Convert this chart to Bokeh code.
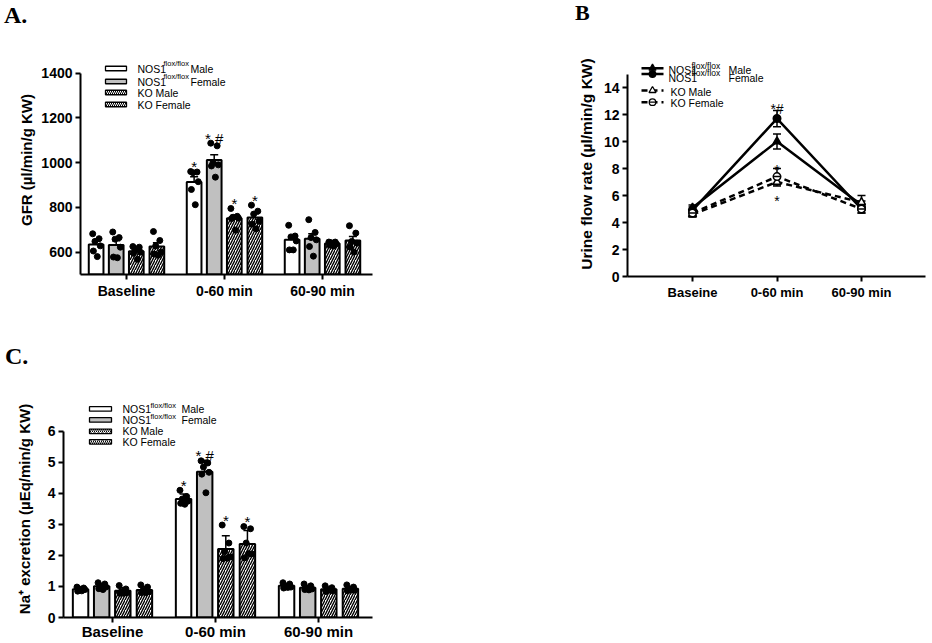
import numpy as np
from bokeh.plotting import figure
from bokeh.models import (ColumnDataSource, Whisker, TeeHead, FixedTicker, Label,
                          BoxAnnotation, Range1d, Div)
from bokeh.layouts import column, row
from bokeh.embed import file_html
from bokeh.resources import INLINE
from bokeh.core.properties import value

FONT = "Liberation Sans"
SERIF = "Liberation Serif"

# ---------------- data ----------------
periods = ["Baseline", "0-60 min", "60-90 min"]
periods_b = ["Baseine", "0-60 min", "60-90 min"]
series_names = ["NOS1 Male", "NOS1 Female", "KO Male", "KO Female"]

# Panel A: GFR (µl/min/g KW), individual animals per period
gfr_nos1_male = [[682, 660, 648, 628, 605, 580], [960, 958, 955, 915, 880, 812], [720, 672, 668, 650, 610, 610]]
gfr_nos1_female = [[690, 665, 658, 622, 578, 575], [1087, 1075, 1000, 990, 985, 935], [745, 688, 665, 655, 625, 582]]
gfr_ko_male = [[625, 622, 612, 600, 595, 568], [795, 760, 756, 752, 750, 698], [645, 645, 642, 636, 632, 628]]
gfr_ko_female = [[692, 652, 628, 600, 592, 586], [810, 783, 770, 738, 725, 704], [718, 685, 648, 640, 622, 600]]
gfr_sig = [["", "*", ""], ["", "* #", ""], ["", "*", ""], ["", "*", ""]]

# Panel B: urine flow rate (µl/min/g KW), mean and error
uf_nos1_male = [5.1, 10.0, 5.3]
uf_nos1_male_err = [0.2, 0.55, 0.3]
uf_nos1_female = [4.9, 11.7, 5.0]
uf_nos1_female_err = [0.25, 0.6, 0.3]
uf_ko_male = [4.6, 7.0, 5.5]
uf_ko_male_err = [0.2, 0.3, 0.5]
uf_ko_female = [4.7, 7.4, 5.0]
uf_ko_female_err = [0.2, 0.6, 0.3]
uf_sig_nos1_female = ["", "*#", ""]
uf_sig_ko_female = ["", "*", ""]
uf_sig_ko_male = ["", "*", ""]

# Panel C: Na+ excretion (µEq/min/g KW), individual animals per period
na_nos1_male = [[0.98, 0.95, 0.92, 0.90, 0.85, 0.86], [4.10, 3.90, 3.82, 3.75, 3.68, 3.65], [1.12, 1.08, 1.02, 0.98, 0.95, 0.97]]
na_nos1_female = [[1.12, 1.08, 1.02, 0.98, 0.93, 0.90], [5.05, 4.98, 4.85, 4.68, 4.62, 4.02], [1.08, 1.02, 0.95, 0.92, 0.90, 0.89]]
na_ko_male = [[1.03, 0.92, 0.85, 0.80, 0.78, 0.78], [2.98, 2.40, 2.12, 1.95, 1.90, 1.91], [1.02, 0.96, 0.90, 0.86, 0.84, 0.88]]
na_ko_female = [[1.05, 0.98, 0.88, 0.83, 0.80, 0.80], [2.93, 2.86, 2.40, 2.05, 1.92, 2.06], [1.05, 0.98, 0.92, 0.88, 0.86, 0.89]]
na_sig = [["", "*", ""], ["", "* #", ""], ["", "*", ""], ["", "*", ""]]

# ---------------- styles ----------------
OFFS = [-0.31, -0.105, 0.1, 0.31]
BW = 0.15
FILLS = ["white", "#c0c0c0", "white", "white"]
HATCH = [None, None, "/", "/"]
JIT = [-0.035, 0.03, -0.012, 0.042, -0.028, 0.012]


class Panel:
    def __init__(self, page_x, page_y, w, h, bl, br, bt, bb, cat0_page, ppx, y0, ppy):
        self.w, self.h, self.bl, self.br, self.bt, self.bb = w, h, bl, br, bt, bb
        self.fl = page_x + bl
        self.ft = page_y + bt
        self.fw = w - bl - br
        self.fh = h - bt - bb
        self.ppx, self.ppy = ppx, ppy
        self.x0 = (self.fl - cat0_page) / ppx
        self.x1 = self.x0 + self.fw / ppx
        self.y0 = y0
        self.y1 = y0 + self.fh / ppy

    def dx(self, px):
        return self.x0 + (px - self.fl) / self.ppx

    def dy(self, py):
        return self.y1 - (py - self.ft) / self.ppy


def letter_div(text, w, h, size, line_h, pad_left):
    return Div(text=text, width=w, height=h, margin=0,
               styles={"font-family": SERIF, "font-size": size, "font-weight": "bold",
                       "line-height": line_h, "padding-left": pad_left, "color": "black",
                       "box-sizing": "border-box", "overflow": "visible"})


def make_fig(pn):
    p = figure(width=pn.w, height=pn.h, x_range=Range1d(pn.x0, pn.x1), y_range=Range1d(pn.y0, pn.y1),
               output_backend="svg", toolbar_location=None, title=None, margin=0,
               min_border_left=pn.bl, min_border_right=pn.br, min_border_top=pn.bt, min_border_bottom=pn.bb)
    p.outline_line_color = None
    p.xgrid.visible = False
    p.ygrid.visible = False
    p.background_fill_color = "white"
    p.border_fill_color = "white"
    return p


def style_axes(p, xlabels, yticks, ybounds, ylabel, ytick_px, xtick_px, ylab_px, ylab_standoff, xstand):
    for ax in (p.xaxis[0], p.yaxis[0]):
        ax.axis_line_width = 2
        ax.axis_line_color = "black"
        ax.major_tick_line_width = 2
        ax.major_tick_line_color = "black"
        ax.major_tick_in = 0
        ax.major_tick_out = 5
        ax.minor_tick_line_color = None
        ax.major_label_text_font = FONT
        ax.major_label_text_font_style = "bold"
        ax.major_label_text_color = "black"
    p.xaxis.ticker = FixedTicker(ticks=list(range(len(xlabels))))
    p.xaxis.major_label_overrides = {i: t for i, t in enumerate(xlabels)}
    p.xaxis.major_label_text_font_size = xtick_px
    p.xaxis.major_label_standoff = xstand
    p.xaxis.axis_label = None
    p.yaxis.ticker = FixedTicker(ticks=yticks)
    p.yaxis.bounds = ybounds
    p.yaxis.major_label_text_font_size = ytick_px
    p.yaxis.major_label_standoff = 3
    p.yaxis.axis_label = ylabel
    p.yaxis.axis_label_text_font = FONT
    p.yaxis.axis_label_text_font_style = "bold"
    p.yaxis.axis_label_text_font_size = ylab_px
    p.yaxis.axis_label_text_color = "black"
    p.yaxis.axis_label_standoff = ylab_standoff


def draw_bars(p, pn, data, sig, err_kind, mark_px):
    for gi, groups in enumerate(data):
        xs = [k + OFFS[gi] for k in range(len(groups))]
        means = [float(np.mean(v)) for v in groups]
        if err_kind == "sem":
            errs = [float(np.std(v, ddof=1) / np.sqrt(len(v))) for v in groups]
        else:
            errs = [float(np.std(v, ddof=1)) for v in groups]
        p.vbar(x=xs, width=BW, top=means, bottom=pn.y0, fill_color=FILLS[gi], line_color="black",
               line_width=2, hatch_pattern=HATCH[gi], hatch_color="black", hatch_scale=5, hatch_weight=1.4)
        src = ColumnDataSource(dict(base=xs, lower=means, upper=[m + e for m, e in zip(means, errs)]))
        p.add_layout(Whisker(source=src, base="base", lower="lower", upper="upper",
                             line_color="black", line_width=1.5,
                             upper_head=TeeHead(size=8, line_width=1.5, line_color="black"),
                             lower_head=None))
        px, py = [], []
        for k, v in enumerate(groups):
            for j, val in enumerate(v):
                px.append(xs[k] + JIT[j % len(JIT)])
                py.append(val)
        p.scatter(px, py, size=6, color="black")
        tx, ty, tt = [], [], []
        for k, v in enumerate(groups):
            if sig[gi][k]:
                tx.append(xs[k])
                ty.append(max(max(v), means[k] + errs[k]))
                tt.append(sig[gi][k])
        if tt:
            p.text(x=tx, y=ty, text=tt, text_align="center", text_baseline="alphabetic", y_offset=-5,
                   text_font=value(FONT), text_font_size=mark_px, text_color="black")


def bar_legend(p, pn, sw_x0, sw_x1, rows_y, sw_h, text_x, sup_x, suffix_x, sup_dy, font_px, sup_px):
    for gi in range(4):
        yc = rows_y[gi]
        p.add_layout(BoxAnnotation(left=pn.dx(sw_x0), right=pn.dx(sw_x1),
                                   top=pn.dy(yc - sw_h / 2), bottom=pn.dy(yc + sw_h / 2),
                                   fill_color=FILLS[gi], fill_alpha=1.0, line_color="black", line_alpha=1.0,
                                   line_width=1.3, hatch_pattern=HATCH[gi], hatch_color="black",
                                   hatch_scale=4, hatch_weight=1.0))
        name = series_names[gi]
        if name.startswith("NOS1"):
            p.add_layout(Label(x=pn.dx(text_x), y=pn.dy(yc), text="NOS1", text_font=FONT,
                               text_font_size=font_px, text_baseline="middle", text_color="black"))
            p.add_layout(Label(x=pn.dx(sup_x), y=pn.dy(yc - sup_dy), text="flox/flox", text_font=FONT,
                               text_font_size=sup_px, text_baseline="middle", text_color="black"))
            p.add_layout(Label(x=pn.dx(suffix_x), y=pn.dy(yc), text=name.split(" ")[1], text_font=FONT,
                               text_font_size=font_px, text_baseline="middle", text_color="black"))
        else:
            p.add_layout(Label(x=pn.dx(text_x), y=pn.dy(yc), text=name, text_font=FONT,
                               text_font_size=font_px, text_baseline="middle", text_color="black"))


# ---------------- Panel A ----------------
divA = letter_div("A.", 460, 30, "24px", "30px", "4px")
pnA = Panel(0, 30, 460, 282, 80, 88, 15, 38, 126, 98.0, 500, 44.75 / 200)
pA = make_fig(pnA)
style_axes(pA, periods, [600, 800, 1000, 1200, 1400], (500, 1400), "GFR (\u00b5l/min/g KW)",
           "14px", "14px", "15px", 3, 3)
draw_bars(pA, pnA, [gfr_nos1_male, gfr_nos1_female, gfr_ko_male, gfr_ko_female], gfr_sig, "sem", "15px")
bar_legend(pA, pnA, 105, 126, [68, 81, 92, 104], 4.5, 137, 163, 190, 5.5, "10.5px", "7.5px")

# ---------------- Panel B ----------------
divB = letter_div("B", 472, 30, "22px", "25px", "115px")
pnB = Panel(460, 30, 472, 282, 167, 7, 21, 36, 692, 84.5, 0, 13.5)
pB = make_fig(pnB)
style_axes(pB, periods_b, [0, 2, 4, 6, 8, 10, 12, 14], (0, 15), "Urine flow rate (\u00b5l/min/g KW)",
           "14px", "13px", "15.5px", 6, 3)
xb = list(range(len(periods_b)))
uf_series = [
    (uf_nos1_male, uf_nos1_male_err, "triangle", "black", "solid"),
    (uf_nos1_female, uf_nos1_female_err, "circle", "black", "solid"),
    (uf_ko_male, uf_ko_male_err, "triangle", "white", "6 4"),
    (uf_ko_female, uf_ko_female_err, "circle", "white", "6 4"),
]
for mean, err, mk, fill, dash in uf_series:
    pB.line(xb, mean, line_width=2.5, line_dash=dash, color="black")
for mean, err, mk, fill, dash in uf_series:
    src = ColumnDataSource(dict(base=xb, lower=[m - e for m, e in zip(mean, err)],
                                upper=[m + e for m, e in zip(mean, err)]))
    pB.add_layout(Whisker(source=src, base="base", lower="lower", upper="upper", line_color="black",
                          line_width=1.5, upper_head=TeeHead(size=8, line_width=1.5),
                          lower_head=TeeHead(size=8, line_width=1.5)))
for si, (mean, err, mk, fill, dash) in enumerate(uf_series):
    pB.scatter(xb, mean, marker=mk, size=8 if mk == "triangle" else 7.5, fill_color=fill,
               line_color="black", line_width=1.5)
    if si == 3:
        pB.scatter(xb, mean, marker="dash", size=7, line_color="black", line_width=1.5)


def b_marks(sig, mean, err, above, yoff):
    tx = [x for x, s in zip(xb, sig) if s]
    ty = [(m + e) if above else (m - e) for m, e, s in zip(mean, err, sig) if s]
    tt = [s for s in sig if s]
    pB.text(x=tx, y=ty, text=tt, text_align="center", text_baseline="alphabetic", y_offset=yoff,
            text_font=value(FONT), text_font_size="14px", text_color="black")


b_marks(uf_sig_nos1_female, uf_nos1_female, uf_nos1_female_err, True, -1)
b_marks(uf_sig_ko_female, uf_ko_female, uf_ko_female_err, True, 1)
b_marks(uf_sig_ko_male, uf_ko_male, uf_ko_male_err, False, 15)

# legend B
b_rows_line = [67.7, 73.5, 90, 101.7]
b_rows_text = [69.5, 77, 91, 102]
for si, (mean, err, mk, fill, dash) in enumerate(uf_series):
    yl = pnB.dy(b_rows_line[si])
    pB.line([pnB.dx(641), pnB.dx(663)], [yl, yl], line_width=2.5, line_dash=dash, color="black")
    pB.scatter([pnB.dx(652)], [yl], marker=mk, size=7 if mk == "triangle" else 6.5, fill_color=fill,
               line_color="black", line_width=1.3)
    if si == 3:
        pB.scatter([pnB.dx(652)], [yl], marker="dash", size=6, line_color="black", line_width=1.3)
    name = series_names[si]
    yt = pnB.dy(b_rows_text[si])
    if name.startswith("NOS1"):
        pB.add_layout(Label(x=pnB.dx(668), y=yt, text="NOS1", text_font=FONT, text_font_size="10.5px",
                            text_baseline="middle", text_color="black"))
        pB.add_layout(Label(x=pnB.dx(691), y=pnB.dy(b_rows_text[si] - 4.5), text="flox/flox", text_font=FONT,
                            text_font_size="8.5px", text_baseline="middle", text_color="black"))
        pB.add_layout(Label(x=pnB.dx(728), y=yt, text=name.split(" ")[1], text_font=FONT,
                            text_font_size="10.5px", text_baseline="middle", text_color="black"))
    else:
        pB.add_layout(Label(x=pnB.dx(670), y=yt, text=name, text_font=FONT, text_font_size="10.5px",
                            text_baseline="middle", text_color="black"))

# ---------------- Panel C ----------------
divC = letter_div("C.", 460, 88, "24px", "88px", "5px")
pnC = Panel(0, 400, 460, 242, 63, 88, 0, 24, 112, 103.0, 0, 31.17)
pC = make_fig(pnC)
style_axes(pC, periods, [0, 1, 2, 3, 4, 5, 6], (0, 6), "Na\u207a excretion (\u00b5Eq/min/g KW)",
           "14px", "15px", "15px", 12, 0)
draw_bars(pC, pnC, [na_nos1_male, na_nos1_female, na_ko_male, na_ko_female], na_sig, "sd", "15px")
bar_legend(pC, pnC, 89, 111, [408.5, 419.5, 431, 441.5], 4.5, 122, 150, 181, 3.5, "10.5px", "7.5px")

layout = column(row(column(divA, pA), column(divB, pB)), column(divC, pC))
open("out.html", "w").write(file_html(layout, INLINE))
